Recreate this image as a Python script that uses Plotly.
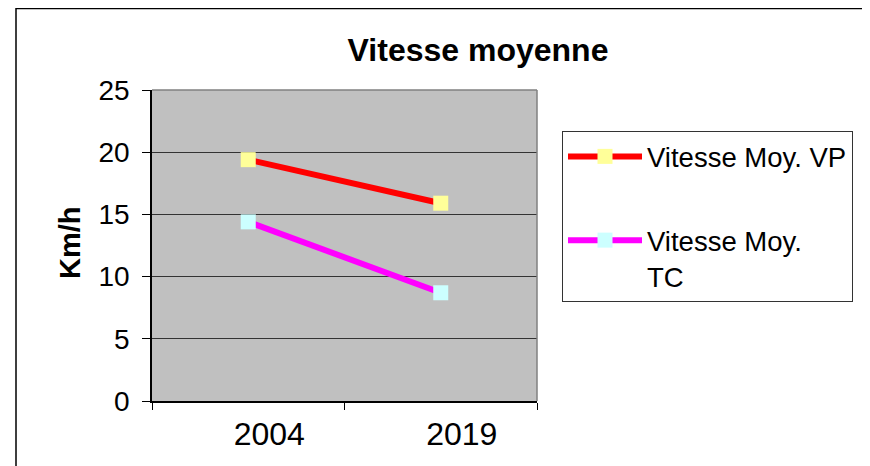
import plotly.graph_objects as go

years = ["2004", "2019"]
vp = [19.4, 15.9]
tc = [14.4, 8.7]
series_names = ["Vitesse Moy. VP", "Vitesse Moy.<br>TC"]
y_ticks = [0, 5, 10, 15, 20, 25]

FONT = "Liberation Sans, Arial, sans-serif"
OFF = 8  # page body margin
W, H = 870 - OFF, 466 - OFF
L, R, T, B = 152 - OFF, 333, 90 - OFF, 65
pw, ph = W - L - R, H - T - B

def px_x(x):  # screen x -> paper
    return (x - OFF - L) / pw

def px_y(y):  # screen y -> paper
    return (H - B - (y - OFF)) / ph

fig = go.Figure()
fig.add_trace(go.Scatter(
    x=years, y=vp, name=series_names[0], mode="lines+markers", legendgroup="a",
    line=dict(color="#FF0000", width=6),
    marker=dict(symbol="square", size=15, color="#FFFF99"),
))
fig.add_trace(go.Scatter(
    x=years, y=tc, name=series_names[1], mode="lines+markers", legendgroup="b",
    line=dict(color="#FF00FF", width=6),
    marker=dict(symbol="square", size=15, color="#CCFFFF"),
))

fig.update_layout(
    width=W, height=H,
    margin=dict(l=L, r=R, t=T, b=B, autoexpand=False),
    paper_bgcolor="white", plot_bgcolor="#C0C0C0",
    font=dict(family=FONT, color="black"),
    title=dict(text="<b>Vitesse moyenne</b>", font=dict(size=32, family=FONT),
               xref="container", x=(478 - OFF) / W, xanchor="center",
               yref="container", y=1 - (50 - OFF) / H, yanchor="middle"),
    showlegend=True,
    legend=dict(x=px_x(562), y=px_y(131), xanchor="left", yanchor="top",
                bordercolor="#333333", borderwidth=1, bgcolor="white",
                font=dict(size=27.5, family=FONT), valign="top",
                traceorder="grouped", tracegroupgap=45, itemwidth=74),
    xaxis=dict(type="category", range=[-0.5, 1.5], showgrid=False,
               showline=True, linecolor="black", linewidth=1.5, mirror=False,
               ticks="outside", ticklen=7, tickcolor="black", tickson="boundaries",
               tickfont=dict(size=32, family=FONT), ticklabelshift=21,
               ticklabelstandoff=4, zeroline=False, fixedrange=True),
    yaxis=dict(range=[0, 25], tickvals=y_ticks, showgrid=True, gridcolor="#333333",
               gridwidth=1, showline=True, linecolor="black", linewidth=1.5,
               ticks="outside", ticklen=8, tickcolor="black",
               tickfont=dict(size=28, family=FONT), ticklabelstandoff=7,
               zeroline=False, fixedrange=True),
)

# plot area top/right border (grey)
fig.add_shape(type="line", xref="paper", yref="paper", x0=0, x1=1, y0=1, y1=1,
              line=dict(color="#808080", width=1.5))
fig.add_shape(type="line", xref="paper", yref="paper", x0=1, x1=1, y0=0, y1=1,
              line=dict(color="#808080", width=1.5))
# outer frame
fig.add_shape(type="rect", xref="paper", yref="paper",
              x0=px_x(16), x1=px_x(864), y0=px_y(480), y1=px_y(8.5),
              line=dict(color="black", width=1.5), layer="below")
# scanning strip at right edge
fig.add_shape(type="rect", xref="paper", yref="paper",
              x0=px_x(864), x1=px_x(870), y0=px_y(466), y1=px_y(363),
              line=dict(width=0), fillcolor="black")

# y-axis title
fig.add_annotation(text="<b>Km/h</b>", xref="paper", yref="paper",
                   x=px_x(70), y=px_y(243), textangle=-90, showarrow=False,
                   font=dict(size=29, family=FONT), xanchor="center", yanchor="middle")

fig.write_html("out.html")
